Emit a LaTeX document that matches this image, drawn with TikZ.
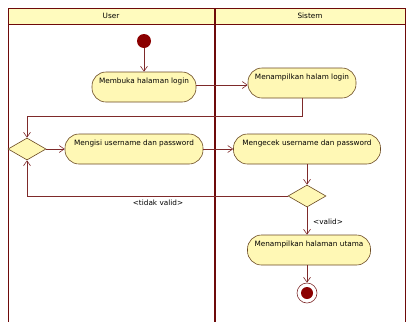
\documentclass[tikz,border=0pt]{standalone}
\usepackage{fontspec}
\setmainfont{DejaVu Sans}
\usetikzlibrary{arrows.meta,shapes.geometric}
\definecolor{lane}{HTML}{6E0A0A}
\definecolor{hdr}{HTML}{FFFBBE}
\definecolor{actfill}{HTML}{FFF8B5}
\definecolor{actline}{HTML}{6B4A24}
\definecolor{conn}{HTML}{7E2A2A}
\definecolor{dot}{HTML}{8B0000}
\tikzset{
  x=1pt,y=-1pt,
  every node/.style={font=\fontsize{7.3}{8}\selectfont},
  act/.style={draw=actline,fill=actfill,line width=0.6pt,rounded corners=14pt,minimum height=30pt,text height=6pt,text depth=14pt,inner xsep=3pt},
  dec/.style={draw=actline,fill=actfill,line width=0.6pt,diamond,minimum width=38pt,minimum height=22pt,inner sep=0pt,aspect=1.7},
  arr/.style={draw=conn,line width=0.6pt,-{Straight Barb[length=5pt,width=7pt]}},
  ln/.style={draw=conn,line width=0.6pt},
}
\begin{document}
\begin{tikzpicture}
\useasboundingbox (0,0) rectangle (406,322);
% swimlanes
\draw[lane,line width=0.8pt,fill=hdr] (8,8) rectangle (405,24);
\draw[lane,line width=0.8pt] (8,24) -- (8,322);
\draw[lane,line width=0.8pt] (405,24) -- (405,322);
\draw[lane,line width=2.6pt] (215,8) -- (215,322);
\node (hu) at (111,16) {User};
\node (hs) at (310,16) {Sistem};
% nodes
\node[circle,fill=dot,minimum size=14pt,inner sep=0pt] (start) at (144,41) {};
\node[act,minimum width=104pt] (membuka) at (144,87) {Membuka halaman login};
\node[act,minimum width=108pt] (tampil) at (302,83) {Menampilkan halam login};
\node[dec] (d1) at (27,149) {};
\node[act,minimum width=138pt] (isi) at (134,149) {Mengisi username dan password};
\node[act,minimum width=147pt] (cek) at (307,149) {Mengecek username dan password};
\node[dec] (d2) at (307,196) {};
\node[act,minimum width=123pt] (utama) at (309,250) {Menampilkan halaman utama};
\node[circle,draw=conn,line width=0.6pt,minimum size=20pt,inner sep=0pt] (end) at (307,293) {};
\node[circle,fill=dot,minimum size=12pt,inner sep=0pt] at (end) {};
% connectors
\draw[arr] (start) -- (membuka);
\draw[arr] (membuka.east |- 0,85) -- (tampil.west |- 0,85);
\draw[arr] (tampil.south) -- (tampil.south |- 0,116) -| (d1.north);
\draw[arr] (d1.east) -- (isi.west);
\draw[arr] (isi.east) -- (cek.west);
\draw[arr] (cek.south) -- (d2.north);
\draw[arr] (d2.west) -| (d1.south);
\draw[arr] (d2.south) -- (d2.south |- utama.north);
\draw[arr] (utama.south -| end) -- (end.north);
\node (tv) at (158,203) {<tidak valid>};
\node (v) at (328,222) {<valid>};
\end{tikzpicture}
\end{document}
